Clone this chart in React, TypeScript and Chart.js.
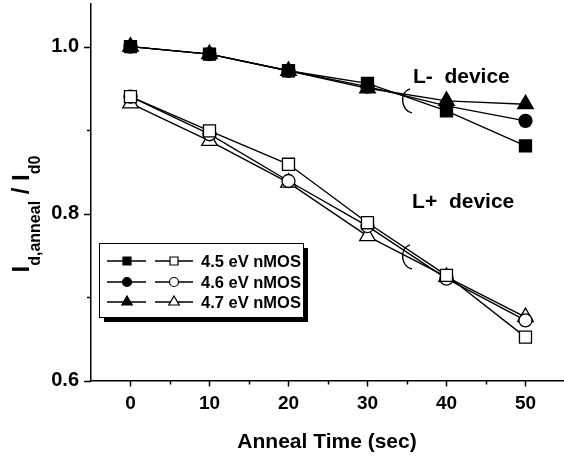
import React, { useEffect, useRef } from 'react';
import { Chart, registerables } from 'chart.js';

Chart.register(...registerables);

// ---- data ----
const annealTime = [0, 10, 20, 30, 40, 50];
// L- device (filled markers)
const lMinus45 = [1.0, 0.991, 0.971, 0.956, 0.923, 0.881];
const lMinus46 = [1.0, 0.991, 0.971, 0.952, 0.929, 0.911];
const lMinus47 = [1.0, 0.991, 0.971, 0.95, 0.935, 0.931];
// L+ device (open markers)
const lPlus45 = [0.94, 0.899, 0.859, 0.789, 0.726, 0.652];
const lPlus46 = [0.94, 0.895, 0.839, 0.785, 0.722, 0.672];
const lPlus47 = [0.932, 0.887, 0.837, 0.773, 0.724, 0.676];

const legendLabels = ['4.5 eV nMOS', '4.6 eV nMOS', '4.7 eV nMOS'];
const markerStyles = ['rect', 'circle', 'triangle'];

const xMajorTicks = [0, 10, 20, 30, 40, 50];
const xMinorTicks = [5, 15, 25, 35, 45];
const yMajorTicks = [0.6, 0.8, 1.0];
const yMinorTicks = [0.7, 0.9];

const xTitle = 'Anneal Time (sec)';
const deviceLabels = ['L-  device', 'L+  device'];
const deviceLabelPos = [
  { x: 35.75, y: 0.9565 },
  { x: 35.65, y: 0.807 },
];
const bracketPos = [
  { x: 35, y: 0.935 },
  { x: 35, y: 0.748 },
];

const FONT = '"Liberation Sans", Arial, Helvetica, sans-serif';

function drawMarker(ctx: CanvasRenderingContext2D, style: string, x: number, y: number, size: number, filled: boolean) {
  ctx.beginPath();
  if (style === 'rect') {
    ctx.rect(x - size / 2, y - size / 2, size, size);
  } else if (style === 'circle') {
    ctx.arc(x, y, size / 2, 0, Math.PI * 2);
  } else {
    const r = size * 0.6;
    ctx.moveTo(x, y - r);
    ctx.lineTo(x + r * Math.sin(Math.PI / 3), y + r / 2);
    ctx.lineTo(x - r * Math.sin(Math.PI / 3), y + r / 2);
    ctx.closePath();
  }
  ctx.fillStyle = filled ? '#000' : '#fff';
  ctx.fill();
  ctx.lineWidth = 1.2;
  ctx.strokeStyle = '#000';
  ctx.stroke();
}

const decorPlugin = {
  id: 'decor',
  afterDraw(chart: any) {
    const ctx: CanvasRenderingContext2D = chart.ctx;
    const xs = chart.scales.x;
    const ys = chart.scales.y;
    const area = chart.chartArea;
    ctx.save();
    ctx.strokeStyle = '#000';
    ctx.fillStyle = '#000';
    ctx.lineWidth = 1.5;

    // tick marks
    const yTick = (v: number, len: number) => {
      const y = Math.round(ys.getPixelForValue(v)) + 0.5;
      ctx.beginPath();
      ctx.moveTo(area.left - len, y);
      ctx.lineTo(area.left, y);
      ctx.stroke();
    };
    yMajorTicks.forEach((v) => yTick(v, 7));
    yMinorTicks.forEach((v) => yTick(v, 4));
    const xTick = (v: number, len: number) => {
      const x = Math.round(xs.getPixelForValue(v)) + 0.5;
      ctx.beginPath();
      ctx.moveTo(x, area.bottom);
      ctx.lineTo(x, area.bottom + len);
      ctx.stroke();
    };
    xMajorTicks.forEach((v) => xTick(v, 6));
    xMinorTicks.forEach((v) => xTick(v, 4));

    // x title
    ctx.font = `bold 21px ${FONT}`;
    ctx.textAlign = 'center';
    ctx.textBaseline = 'alphabetic';
    ctx.fillText(xTitle, (area.left + area.right) / 2, 448);

    // y title: I_{d,anneal} / I_{d0}
    const mainFont = `bold 24px ${FONT}`;
    const subFont = `bold 16px ${FONT}`;
    const parts: [string, boolean][] = [
      ['I', false],
      ['d,anneal', true],
      [' / I', false],
      ['d0', true],
    ];
    let total = 0;
    const widths = parts.map(([t, sub]) => {
      ctx.font = sub ? subFont : mainFont;
      const w = ctx.measureText(t).width;
      total += w;
      return w;
    });
    ctx.save();
    ctx.translate(29, 214);
    ctx.rotate(-Math.PI / 2);
    ctx.textAlign = 'left';
    let cx = -total / 2;
    parts.forEach(([t, sub], i) => {
      ctx.font = sub ? subFont : mainFont;
      ctx.fillText(t, cx, sub ? 11 : 0);
      cx += widths[i];
    });
    ctx.restore();

    // device labels
    ctx.font = `bold 21px ${FONT}`;
    ctx.textAlign = 'left';
    ctx.textBaseline = 'alphabetic';
    deviceLabels.forEach((t, i) => {
      ctx.fillText(t, xs.getPixelForValue(deviceLabelPos[i].x), ys.getPixelForValue(deviceLabelPos[i].y));
    });

    // brackets
    ctx.lineWidth = 1.4;
    bracketPos.forEach((p) => {
      const x = xs.getPixelForValue(p.x);
      const y = ys.getPixelForValue(p.y);
      ctx.beginPath();
      ctx.moveTo(x + 3, y - 12);
      ctx.bezierCurveTo(x - 9, y - 8, x - 5, y + 11, x + 5, y + 12);
      ctx.stroke();
    });

    // legend box
    const bx = 99, by = 243, bw = 204, bh = 74;
    ctx.fillStyle = '#000';
    ctx.fillRect(bx + 5, by + 5, bw, bh);
    ctx.fillStyle = '#fff';
    ctx.fillRect(bx, by, bw, bh);
    ctx.lineWidth = 1;
    ctx.strokeStyle = '#000';
    ctx.strokeRect(bx + 0.5, by + 0.5, bw, bh);
    const rowsY = [261, 282, 302];
    legendLabels.forEach((label, i) => {
      const y = rowsY[i];
      ctx.lineWidth = 1.4;
      ctx.strokeStyle = '#000';
      ctx.beginPath();
      ctx.moveTo(107, y);
      ctx.lineTo(146, y);
      ctx.moveTo(155, y);
      ctx.lineTo(193, y);
      ctx.stroke();
      const sz = markerStyles[i] === 'rect' ? 8 : markerStyles[i] === 'circle' ? 9 : 10;
      drawMarker(ctx, markerStyles[i], 127, y, sz, true);
      drawMarker(ctx, markerStyles[i], 174, y, sz, false);
      ctx.fillStyle = '#000';
      ctx.font = `bold 16.5px ${FONT}`;
      ctx.textAlign = 'left';
      ctx.textBaseline = 'middle';
      ctx.fillText(label, 201, y + 1);
    });
    ctx.restore();
  },
};

function makeSet(values: number[], style: string, filled: boolean) {
  const radius = style === 'rect' ? 8.5 : style === 'circle' ? 6.5 : 9;
  return {
    data: annealTime.map((t, i) => ({ x: t, y: values[i] })),
    borderColor: '#000',
    borderWidth: 1.4,
    pointStyle: style,
    pointRadius: radius,
    pointHoverRadius: radius,
    pointBackgroundColor: filled ? '#000' : '#fff',
    pointBorderColor: '#000',
    pointBorderWidth: 1.3,
    fill: false,
    tension: 0,
    clip: false,
  };
}

const zeroPad = (s: any) => {
  s.paddingTop = 0;
  s.paddingBottom = 0;
  s.paddingLeft = 0;
  s.paddingRight = 0;
};

export default function App() {
  const ref = useRef<HTMLCanvasElement>(null);
  useEffect(() => {
    document.body.style.margin = '0';
    const chart = new Chart(ref.current as HTMLCanvasElement, {
      type: 'line',
      data: {
        datasets: [
          makeSet(lPlus45, 'rect', false),
          makeSet(lPlus46, 'circle', false),
          makeSet(lPlus47, 'triangle', false),
          makeSet(lMinus45, 'rect', true),
          makeSet(lMinus46, 'circle', true),
          makeSet(lMinus47, 'triangle', true),
        ] as any,
      },
      options: {
        animation: false,
        responsive: false,
        devicePixelRatio: 1,
        layout: { autoPadding: false, padding: { top: 4, right: 1, left: 0, bottom: 0 } },
        plugins: { legend: { display: false }, tooltip: { enabled: false } },
        scales: {
          x: {
            type: 'linear',
            min: -5,
            max: 54.75,
            afterFit: (s: any) => {
              s.height = 79.5;
              zeroPad(s);
            },
            afterBuildTicks: (s: any) => {
              s.ticks = xMajorTicks.map((v) => ({ value: v }));
            },
            grid: { display: false, drawTicks: false },
            border: { display: true, color: '#000', width: 1.5 },
            ticks: {
              color: '#000',
              font: { family: FONT, size: 19, weight: 'bold' },
              padding: 12,
              maxRotation: 0,
              autoSkip: false,
              callback: (v: any) => String(v),
            },
          },
          y: {
            type: 'linear',
            min: 0.6,
            max: 1.051,
            afterFit: (s: any) => {
              s.width = 91;
              zeroPad(s);
            },
            afterBuildTicks: (s: any) => {
              s.ticks = yMajorTicks.map((v) => ({ value: v }));
            },
            grid: { display: false, drawTicks: false },
            border: { display: true, color: '#000', width: 1.5 },
            ticks: {
              color: '#000',
              font: { family: FONT, size: 20, weight: 'bold' },
              padding: 12,
              autoSkip: false,
              callback: (v: any) => Number(v).toFixed(1),
            },
          },
        },
      } as any,
      plugins: [decorPlugin],
    });
    return () => chart.destroy();
  }, []);
  return (
    <div style={{ width: 564, height: 460 }}>
      <canvas ref={ref} width={564} height={460} style={{ display: 'block' }} />
    </div>
  );
}
